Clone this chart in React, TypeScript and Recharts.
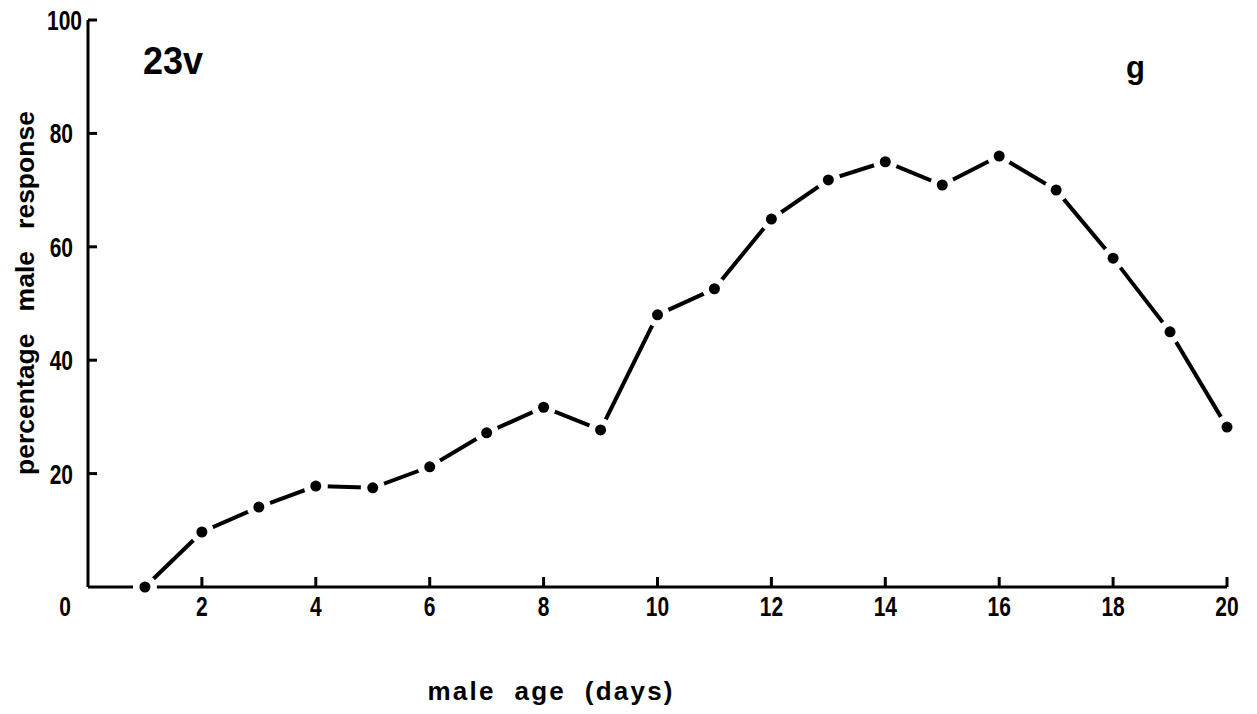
import React from 'react';
import { LineChart, Line, XAxis, YAxis, Label } from 'recharts';

// male age in days and the percentage of males responding
const days = [1, 2, 3, 4, 5, 6, 7, 8, 9, 10, 11, 12, 13, 14, 15, 16, 17, 18, 19, 20];
const response = [0, 9.7, 14.1, 17.8, 17.5, 21.2, 27.2, 31.7, 27.7, 48.0, 52.6, 64.9, 71.8, 75.0, 70.9, 76.0, 70.0, 58.0, 45.0, 28.2];

const xTicks = [2, 4, 6, 8, 10, 12, 14, 16, 18, 20];
const yTicks = [0, 20, 40, 60, 80, 100];

const chartData = days.map((d, i) => ({ day: d, pct: response[i] }));

const FONT = '"Liberation Sans", Arial, sans-serif';

// condensed bold digits, like the typewriter-era plot labels
const Num = ({ x, y, anchor, children }: { x: number; y: number; anchor: string; children: React.ReactNode }) => (
  <text
    transform={`translate(${x} ${y}) scale(0.84 1.08)`}
    textAnchor={anchor}
    fontFamily={FONT}
    fontWeight="bold"
    fontSize={25}
    fill="#000"
  >
    {children}
  </text>
);

// x ticks: short mark pointing up into the plot, label below
const XTick = (props: any) => {
  const { x, y, payload } = props;
  return (
    <g>
      <line x1={x} y1={y} x2={x} y2={y - 10} stroke="#000" strokeWidth={3} />
      <Num x={x} y={y + 29} anchor="middle">{payload.value}</Num>
    </g>
  );
};

// y ticks: mark pointing right into the plot, label left; the 0 sits under the corner
const YTick = (props: any) => {
  const { x, y, payload } = props;
  if (payload.value === 0) {
    return <Num x={x - 23} y={y + 29} anchor="middle">0</Num>;
  }
  const gap = payload.value === 100 ? 6 : 15;
  return (
    <g>
      <line x1={x} y1={y} x2={x + 9} y2={y} stroke="#000" strokeWidth={3} />
      <Num x={x - gap} y={y + 10} anchor="end">{payload.value}</Num>
    </g>
  );
};

// filled dot with a white halo, so the line stops short of each point
const renderDot = (props: any) => {
  const { cx, cy, index } = props;
  return (
    <g key={`dot-${index}`}>
      <circle cx={cx} cy={cy} r={12} fill="#fff" />
      <circle cx={cx} cy={cy} r={5.5} fill="#000" />
    </g>
  );
};

const XTitle = (props: any) => {
  const { viewBox } = props;
  const cx = viewBox.x + 462;
  return (
    <text x={cx} y={700} textAnchor="middle" fontFamily={FONT} fontWeight="bold" fontSize={26}
      textLength={245} lengthAdjust="spacing" fill="#000" style={{ whiteSpace: 'pre' }}>
      {'male  age  (days)'}
    </text>
  );
};

const YTitle = () => (
  <text x={0} y={0} transform="translate(34 293) rotate(-90)" textAnchor="middle" fontFamily={FONT}
    fontWeight="bold" fontSize={26.5} fill="#000" style={{ whiteSpace: 'pre' }}>
    {'percentage   male   response'}
  </text>
);

const App: React.FC = () => {
  return (
    <div style={{ position: 'absolute', left: 0, top: 0, width: 1257, height: 714, background: '#fff' }}>
      <LineChart width={1257} height={714} data={chartData} margin={{ top: 20, right: 30, left: 28, bottom: 27 }}>
        <XAxis
          dataKey="day"
          type="number"
          domain={[0, 20]}
          ticks={xTicks}
          height={100}
          tickLine={false}
          tickSize={0}
          tickMargin={0}
          tick={<XTick />}
          axisLine={{ stroke: '#000', strokeWidth: 3 }}
        >
          <Label content={<XTitle />} />
        </XAxis>
        <YAxis
          type="number"
          domain={[0, 100]}
          ticks={yTicks}
          width={60}
          tickLine={false}
          tickSize={0}
          tickMargin={0}
          tick={<YTick />}
          axisLine={{ stroke: '#000', strokeWidth: 3 }}
        >
          <Label content={<YTitle />} />
        </YAxis>
        <Line
          type="linear"
          dataKey="pct"
          stroke="#000"
          strokeWidth={4}
          dot={renderDot}
          activeDot={false}
          isAnimationActive={false}
        />
      </LineChart>
      <div style={{ position: 'absolute', left: 143, top: 43, fontFamily: FONT, fontWeight: 'bold', fontSize: 36, color: '#000', lineHeight: 1, transform: 'scaleY(1.08)' }}>
        23v
      </div>
      <div style={{ position: 'absolute', left: 1126, top: 52, fontFamily: FONT, fontWeight: 'bold', fontSize: 31, color: '#000', lineHeight: 1 }}>
        g
      </div>
    </div>
  );
};

export default App;
